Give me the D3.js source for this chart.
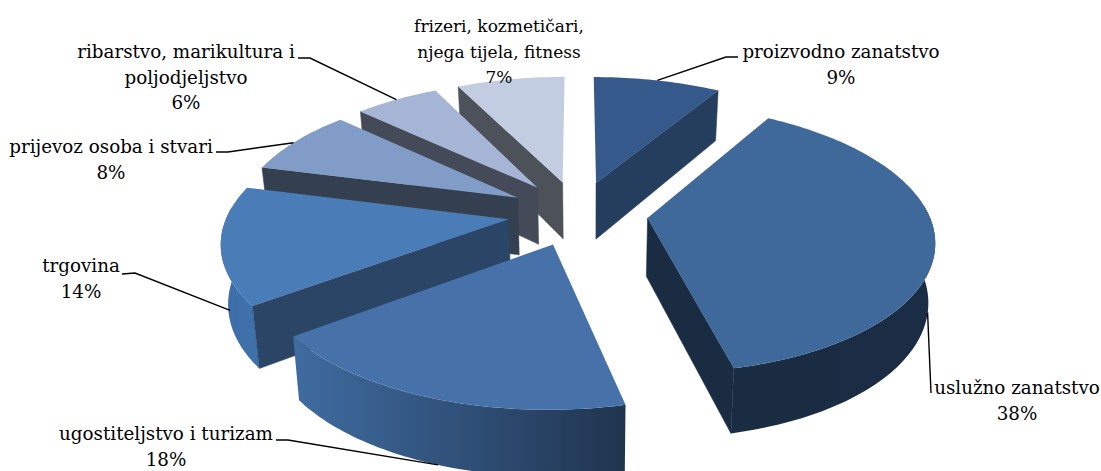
<!DOCTYPE html>
<html>
<head>
<meta charset="utf-8">
<script src="https://cdn.jsdelivr.net/npm/d3@7"></script>
<style>
  body { margin: 0; background: #fff; }
  svg { display: block; }
  text { font-family: "DejaVu Serif", serif; fill: #000; }
</style>
</head>
<body>
<svg id="chart" width="1101" height="471"></svg>
<script>
// slices, clockwise from 12 o'clock
const categories = ["proizvodno zanatstvo", "uslužno zanatstvo", "ugostiteljstvo i turizam", "trgovina",
    "prijevoz osoba i stvari", "ribarstvo, marikultura i poljodjeljstvo", "frizeri, kozmetičari, njega tijela, fitness"];
const shares = [8.6, 37.8, 18.4, 14.2, 8.0, 5.7, 7.3];

// label lines (category wrapped as in the chart)
const labelLines = [
    ["proizvodno zanatstvo"],
    ["uslužno zanatstvo"],
    ["ugostiteljstvo i turizam"],
    ["trgovina"],
    ["prijevoz osoba i stvari"],
    ["ribarstvo, marikultura i", "poljodjeljstvo"],
    ["frizeri, kozmetičari,", "njega tijela, fitness"]
];

// colours per slice
const topColors = ["#35598a", "#40699b", "#4672a9", "#4a7cb8", "#819cc6", "#a6b5d6", "#c3cde1"];
const sideColors = ["#263e5e", "#1a2c42", "#2a4565", "#2a4565", "#343f50", "#444a57", "#4d5159"];
const outerFrom = ["#263e5e", "#1a2c42", "#3f6ca1", "#3d6ea8", "#343f50", "#444a57", "#4d5159"];
const outerTo = ["#263e5e", "#1b2d44", "#20344f", "#3f71ab", "#343f50", "#444a57", "#4d5159"];

// label placement: centre x, first baseline, font size; leader elbow; where the leader hits the slice
const labelX = [841, 1017, 166, 81, 111, 186, 499];
const labelY = [58, 394, 440, 272, 153, 58, 32];
const labelSize = [18.3, 18.3, 18.3, 18.3, 18.3, 18.3, 17];
const leaderElbows = [
    [[738, 57], [726, 57]],
    [[931, 393]],
    [[276, 440], [288, 440]],
    [[122, 274], [135, 273]],
    [[216, 152], [228, 152]],
    [[298, 58], [310, 58]],
    null
];
const leaderHit = [[0.5, 0], [0.55, 0.95], [0.49, 1], [0.32, 0.7], [0.47, 0], [0.5, 0], null];

const drawOrder = [0, 6, 5, 4, 3, 1, 2];

// plane of the pie -> screen, with a bit of perspective
const cx = 578, cy = 213, radiusX = 281, radiusY = 130, persp = 0.15;
const explode = 0.249, depth = 58;

const scaleX = d3.scaleLinear().domain([-1, 1]).range([-radiusX, radiusX]);
const scaleY = d3.scaleLinear().domain([-1, 1]).range([-radiusY, radiusY]);

function project(x, y, z) {
    const w = 1 - persp * y;
    const px = cx + scaleX(x) / w;
    const py = cy + scaleY(y) / w;
    const dz = z * depth * (1 + 0.12 * y);
    return [px + z * (590 - px) * 0.02, py + dz];
}

const pie = d3.pie().sort(null).value(d => d);
const arcs = pie(shares);

function rimPoint(d, a, z) {
    const mid = (d.startAngle + d.endAngle) / 2;
    const x = explode * Math.sin(mid) + Math.sin(a);
    const y = -explode * Math.cos(mid) - Math.cos(a);
    return project(x, y, z);
}
function apexPoint(d, z) {
    const mid = (d.startAngle + d.endAngle) / 2;
    return project(explode * Math.sin(mid), -explode * Math.cos(mid), z);
}
function rimAngles(d) {
    const n = Math.ceil((d.endAngle - d.startAngle) / 0.02);
    return d3.range(n + 1).map(i => d.startAngle + (d.endAngle - d.startAngle) * i / n);
}

const line = d3.line();
const svg = d3.select("#chart");

const defs = svg.append("defs");
arcs.forEach((d, i) => {
    const grad = defs.append("linearGradient").attr("id", "outer" + i);
    grad.append("stop").attr("offset", "0%").attr("stop-color", outerFrom[i]);
    grad.append("stop").attr("offset", "100%").attr("stop-color", outerTo[i]);
});

const slices = svg.append("g")
    .selectAll("g")
    .data(drawOrder)
    .join("g");

slices.each(function(i) {
    const d = arcs[i];
    const g = d3.select(this);
    const angles = rimAngles(d);
    const topRim = angles.map(a => rimPoint(d, a, 0));

    // outer wall, only the part of the rim that faces front
    const front = angles.filter(a => Math.cos(a) < 0.1);
    if (front.length > 1) {
        const upper = front.map(a => rimPoint(d, a, 0));
        const lower = front.map(a => rimPoint(d, a, 1)).reverse();
        g.append("path")
            .attr("d", line(upper.concat(lower)) + "Z")
            .attr("fill", `url(#outer${i})`);
    }

    // cut walls, only the ones turned to the viewer
    const cuts = [];
    if (Math.sin(d.startAngle) < -0.001) cuts.push(d.startAngle);
    if (Math.sin(d.endAngle) > 0.001) cuts.push(d.endAngle);
    cuts.forEach(a => {
        const wall = [apexPoint(d, 0), rimPoint(d, a, 0), rimPoint(d, a, 1), apexPoint(d, 1)];
        g.append("path")
            .attr("d", line(wall) + "Z")
            .attr("fill", sideColors[i])
            .attr("stroke", sideColors[i])
            .attr("stroke-width", 0.5);
    });

    // top
    g.append("path")
        .attr("d", line([apexPoint(d, 0)].concat(topRim)) + "Z")
        .attr("fill", topColors[i]);
});

// leaders
svg.append("g")
    .selectAll("path")
    .data(arcs.filter((d, i) => leaderElbows[i]))
    .join("path")
    .attr("d", d => {
        const i = d.index;
        const a = d.startAngle + (d.endAngle - d.startAngle) * leaderHit[i][0];
        return line(leaderElbows[i].concat([rimPoint(d, a, leaderHit[i][1])]));
    })
    .attr("fill", "none")
    .attr("stroke", "#000")
    .attr("stroke-width", 1.4);

// labels
const fmt = d3.format(".0f");
const labels = svg.append("g")
    .selectAll("text")
    .data(arcs)
    .join("text")
    .attr("text-anchor", "middle")
    .attr("font-size", (d, i) => labelSize[i])
    .attr("x", (d, i) => labelX[i])
    .attr("y", (d, i) => labelY[i]);

labels.selectAll("tspan")
    .data((d, i) => labelLines[i].concat([fmt(d.value) + "%"]))
    .join("tspan")
    .attr("x", function() { return d3.select(this.parentNode).attr("x"); })
    .attr("dy", (d, j) => j === 0 ? 0 : 25.5)
    .text(d => d);
</script>
</body>
</html>
